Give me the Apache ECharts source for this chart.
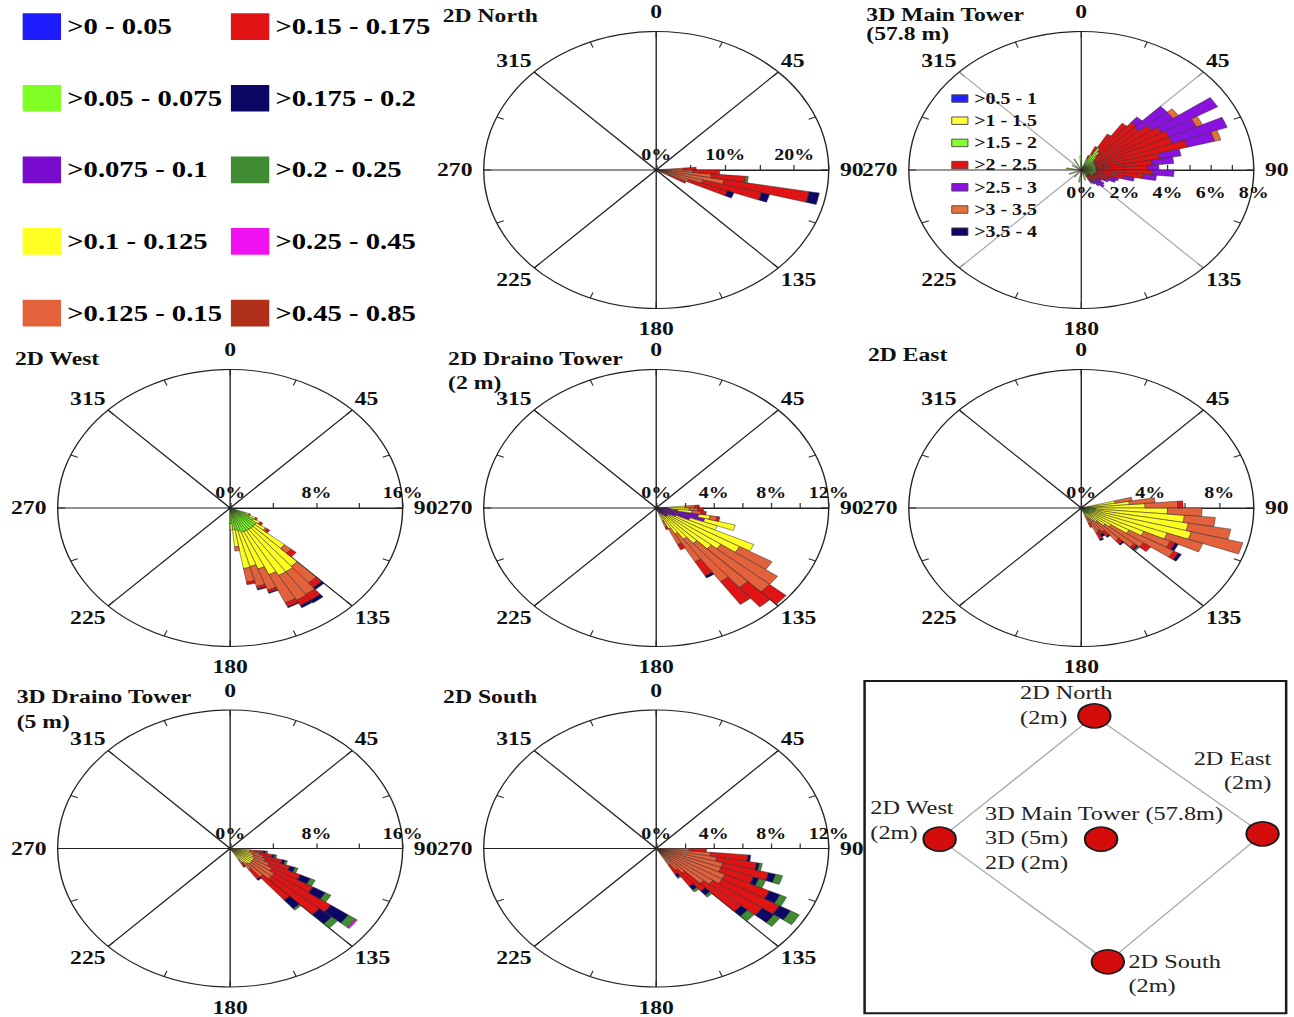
<!DOCTYPE html>
<html>
<head>
<meta charset="utf-8">
<script src="https://cdn.jsdelivr.net/npm/echarts@6/dist/echarts.min.js"></script>
<style>
html,body{margin:0;padding:0;background:#fff;overflow:hidden;}
#wrap{width:1294px;height:1017px;overflow:hidden;position:relative;background:#fff;}
#chart{width:1039px;height:1017px;transform:scaleX(1.24543);transform-origin:0 0;}
</style>
</head>
<body>
<div id="wrap"><div id="chart"></div></div>
<script>
// ---------------- DATA ----------------
// wind-direction bins (start angle of each 5-degree sector, clockwise from north)
const binStarts = Array.from({length: 72}, (_, i) => String(i * 5));
// compass labels shown round each rose
const compassLabels = [0, 45, 90, 135, 180, 225, 270, 315];

const classNames = ['>0 - 0.05','>0.05 - 0.075','>0.075 - 0.1','>0.1 - 0.125','>0.125 - 0.15',
                    '>0.15 - 0.175','>0.175 - 0.2','>0.2 - 0.25','>0.25 - 0.45','>0.45 - 0.85'];
const classColors = ['#1f1bff','#80ff24','#7a0ccf','#ffff22','#e4623b','#e01414','#0c0664','#3f8c32','#f012f0','#b0301a'];
const towerClassNames = ['>0.5 - 1','>1 - 1.5','>1.5 - 2','>2 - 2.5','>2.5 - 3','>3 - 3.5','>3.5 - 4'];
const towerClassColors = ['#2222ff','#ffff3a','#84ff30','#e01414','#8a12e0','#e8703c','#0c0664'];

const panelTitles = ['2D North','3D Main Tower\n(57.8 m)','2D West','2D Draino Tower\n(2 m)','2D East','3D Draino Tower\n(5 m)','2D South'];
const radialMax       = [25, 8, 16, 12, 10, 16, 12];
const radialTickStep  = [5, 1, 4, 2, 2, 4, 2];
const radialLabelStep = [10, 2, 8, 4, 4, 8, 4];

// 2D North (% of time per direction sector, per class)
const northBins   = [85, 90, 95, 100, 105, 110, 115];
const northYellow = [0.3, 0.3, 0.4, 0.5, 0.4, 0.3, 0.3];
const northOrange = [3.7, 5.0, 7.6, 9.5, 6.6, 4.7, 1.8];
const northRed    = [1.8, 3.9, 5.0, 12.5, 8.8, 6.0, 2.7];
const northNavy   = [0, 0, 0, 1.5, 1.2, 1.0, 0];
const northGreen  = [0, 0, 0.4, 0, 0, 0, 0];

// 3D Main Tower (57.8 m)
const towerBins   = [20,25,30,35,40,45,50,55,60,65,70,75,80,85,90,95,100,105,110,115,120,125,130,135,140,145,160,185,215,245,275,300,330,355];
const towerBlue   = [0.1,0.1,0.1,0.1,0.1,0.1,0.1,0.1,0.1,0.1,0.1,0.1,0.1,0.1,0.1,0.1,0.1,0.1,0.1,0.1,0.1,0.1,0.1,0.1,0.1,0.1,0.1,0.1,0.1,0.1,0.1,0.1,0.1,0.1];
const towerYellow = [0.1,0.1,0.2,0.2,0.2,0.2,0.2,0.2,0.2,0.2,0.2,0.2,0.2,0.2,0.2,0.2,0.2,0.2,0.2,0.2,0.1,0.1,0.1,0.1,0.1,0.1,0.2,0.2,0.1,0.2,0.2,0.1,0.2,0.2];
const towerGreen  = [0.5,0.8,1.2,1.0,0.7,0.5,0.4,0.4,0.4,0.4,0.4,0.4,0.4,0.4,0.4,0.4,0.4,0.3,0.3,0.3,0.2,0.2,0.2,0.2,0.2,0.2,0.3,0.4,0.3,0.3,0.4,0.3,0.4,0.5];
const towerRed    = [0.2,0.5,0.9,2.0,2.6,2.7,3.3,3.6,3.8,3.8,4.4,3.0,2.6,2.4,2.6,2.2,1.3,0.9,0.7,0.6,0.5,0.5,0.5,0.4,0.3,0.3,0,0,0,0,0,0,0,0];
const towerPurple = [0,0,0,0,0.4,1.7,1.2,3.0,1.4,2.7,1.3,1.0,1.0,0.5,1.0,0.6,0.5,0.3,0.4,0.2,0.2,0.4,0.5,0.4,0.3,0.2,0,0,0,0,0,0,0,0];
const towerOrange = [0,0,0,0,0,0,0.3,0,0.3,0,0.3,0,0,0,0,0,0,0,0,0,0,0,0,0,0,0,0,0,0,0,0,0,0,0];

// 2D West
const westBins   = [110,115,120,125,130,135,140,145,150,155,160,165,170,175];
const westLime   = [1.5,2.0,2.5,3.0,3.0,3.0,3.0,3.0,3.0,3.0,2.8,2.6,2.5,1.8];
const westYellow = [0.4,0.6,0.7,1.0,3.6,5.8,6.0,6.0,5.5,4.5,4.2,4.5,2.0,0.7];
const westOrange = [0,0,0,0.2,0.8,2.5,3.2,3.3,3.6,2.6,2.4,1.6,0.5,0];
const westRed    = [0.1,0.2,0.3,0.3,0.6,0.7,0.8,0.7,0.5,0.3,0.3,0.3,0,0];
const westNavy   = [0,0,0,0,0,0.3,0.4,0.3,0.1,0.1,0.1,0,0,0];

// 2D Draino Tower (2 m)
const draino2Bins   = [85,90,95,100,105,110,115,120,125,130,135,140,145,150,155];
const draino2Purple = [0.8,1.0,1.5,3.0,3.5,2.5,1.5,1.2,1.0,1.0,1.0,0.8,0.6,0.5,0.4];
const draino2Yellow = [1.2,1.3,1.0,0.8,2.2,2.0,6.0,5.5,4.5,4.0,3.0,2.5,2.0,1.5,0.8];
const draino2Orange = [0.7,0.6,0.6,0.5,0,0,0,2.6,4.8,5.3,5.0,4.5,2.8,1.5,0.6];
const draino2Red    = [0.3,0.4,0.4,0.2,0,0,0,0,0,1.5,2.2,2.4,1.4,0.5,0.2];
const draino2Navy   = [0,0,0,0,0,0,0,0,0,0,0,0,0.2,0,0];

// 2D East
const eastBins   = [75,80,85,90,95,100,105,110,115,120,125,130,135,140,145,150,155];
const eastLime   = [0.5,0.6,0.7,0.8,0.8,0.8,0.8,0.8,0.7,0.7,0.6,0.6,0.5,0.5,0.4,0.4,0.3];
const eastYellow = [1.5,2.2,3.0,4.2,5.2,5.5,5.8,4.5,3.3,2.5,1.5,1.2,0.8,0.6,0.5,0.4,0.3];
const eastOrange = [1.0,1.5,1.9,2.0,1.8,2.5,3.1,2.2,1.7,3.0,2.3,2.2,1.8,1.0,1.0,1.2,0.6];
const eastRed    = [0,0,0.3,0,0,0,0,0,0.3,0.3,0.5,0.2,0.3,0.4,0.3,0.5,0.3];
const eastNavy   = [0,0,0,0,0,0,0,0,0.2,0.2,0,0.1,0.1,0.1,0.2,0.1,0];
const eastGreen  = [0,0,0,0,0,0,0,0,0,0,0,0.1,0,0,0,0,0];

// 3D Draino Tower (5 m)
const draino5Bins    = [95,100,105,110,115,120,125,130,135,140,145];
const draino5Yellow  = [1.8,2.0,2.2,2.3,2.5,2.5,2.5,2.5,2.3,2.0,1.5];
const draino5Orange  = [0.5,0.8,1.0,1.2,1.5,2.0,2.5,2.5,2.0,1.0,0.5];
const draino5Red     = [0.8,1.2,1.8,2.4,3.2,4.4,6.4,5.8,3.5,1.3,0.4];
const draino5Navy    = [0.2,0.2,0.3,0.5,1.0,1.3,2.0,1.5,1.3,0.2,0.1];
const draino5Green   = [0.2,0.2,0.2,0.3,0.5,0.6,0.8,0.7,0.2,0,0];
const draino5Magenta = [0,0,0,0,0,0,0.2,0,0,0,0];

// 2D South
const southBins   = [90,95,100,105,110,115,120,125,130,135,140,145];
const southYellow = [0.3,0.3,0.3,0.3,0.3,0.3,0.3,0.3,0.3,0.3,0.3,0.2];
const southOrange = [2.0,3.5,4.0,4.5,4.5,5.0,5.0,4.5,4.0,2.5,2.0,1.5];
const southRed    = [1.2,2.6,2.8,3.3,2.4,3.4,4.6,4.2,3.4,2.0,1.7,0.9];
const southNavy   = [0,0.2,0.2,0.5,0.4,0.8,0.9,1.0,0.6,0.5,0.4,0.3];
const southGreen  = [0,0,0.2,0.5,0.5,0.5,0.7,0.5,0.6,0.2,0.2,0.1];

// site schematic (relative positions, 0-100 units)
const siteNames = ['2D North\n(2m)','2D East\n(2m)','2D South\n(2m)','2D West\n(2m)','3D Main Tower (57.8m)\n3D (5m)\n2D (2m)'];
const siteX = [54.5, 94.4, 57.7, 17.8, 56.1];
const siteY = [89.5, 54.0, 15.5, 52.4, 52.4];
const siteRing = [0, 1, 2, 3, 0];

// ---------------- BUILD ----------------
const FONT = "'Liberation Serif','Times New Roman',Times,serif";
const colX = [184.8, 526.9, 868.2];
const rowY = [170, 508, 848.5];
const RAD = 138.5;

const roses = [
  {col:1,row:0, tl:355.5, tt:6,     lh:20,  scheme:'main',  bins:northBins,
   parts:{3:northYellow,4:northOrange,5:northRed,6:northNavy,7:northGreen}},
  {col:2,row:0, tl:695.6, tt:5.5,   lh:19,  scheme:'tower', bins:towerBins, grey:true, below:true,
   parts:{0:towerBlue,1:towerYellow,2:towerGreen,3:towerRed,4:towerPurple,5:towerOrange}},
  {col:0,row:1, tl:12,    tt:348.3, lh:20,  scheme:'main',  bins:westBins,
   parts:{1:westLime,3:westYellow,4:westOrange,5:westRed,6:westNavy}},
  {col:1,row:1, tl:359.8, tt:347.4, lh:23.3,scheme:'main',  bins:draino2Bins,
   parts:{2:draino2Purple,3:draino2Yellow,4:draino2Orange,5:draino2Red,6:draino2Navy}},
  {col:2,row:1, tl:696.9, tt:345,   lh:20,  scheme:'main',  bins:eastBins,
   parts:{1:eastLime,3:eastYellow,4:eastOrange,5:eastRed,6:eastNavy,7:eastGreen}},
  {col:0,row:2, tl:13.4,  tt:684.2, lh:25,  scheme:'main',  bins:draino5Bins,
   parts:{3:draino5Yellow,4:draino5Orange,5:draino5Red,6:draino5Navy,7:draino5Green,8:draino5Magenta}},
  {col:1,row:2, tl:355.8, tt:686.7, lh:20,  scheme:'main',  bins:southBins,
   parts:{3:southYellow,4:southOrange,5:southRed,6:southNavy,7:southGreen}}
];

function toSectors(bins, vals) {
  const arr = new Array(binStarts.length).fill(null);
  bins.forEach((b, i) => { if (vals[i] > 0) arr[binStarts.indexOf(String(b))] = vals[i]; });
  return arr;
}

const labelFont = {fontFamily: FONT, fontWeight: 'bold', fontSize: 19, color: '#111'};
const polar = [], angleAxis = [], radiusAxis = [], series = [], title = [];

roses.forEach((r, k) => {
  const center = [colX[r.col], rowY[r.row]];
  const pd = 2 * k, pf = 2 * k + 1;
  polar.push({center: center, radius: RAD});
  polar.push({center: center, radius: RAD});

  // data polar (hidden axes)
  angleAxis.push({polarIndex: pd, type: 'category', data: binStarts, startAngle: 90, clockwise: true,
    boundaryGap: true, axisLine: {show: false}, axisTick: {show: false}, axisLabel: {show: false}, splitLine: {show: false}});
  radiusAxis.push({polarIndex: pd, type: 'value', min: 0, max: radialMax[k],
    axisLine: {show: false}, axisTick: {show: false}, axisLabel: {show: false}, splitLine: {show: false}});

  // frame polar: outline, spokes, compass labels, radial scale along east (angle 0 of this axis = compass 90)
  const spokeColors = r.grey ? ['#333', 'rgba(0,0,0,0)', '#aaa', 'rgba(0,0,0,0)'] : ['#222', 'rgba(0,0,0,0)'];
  angleAxis.push({polarIndex: pf, type: 'value', min: 0, max: 360, interval: 22.5, startAngle: 0, clockwise: true,
    axisLine: {show: true, lineStyle: {color: '#222', width: 1.1}},
    axisTick: {show: true, inside: true, length: 6, lineStyle: {color: '#333', width: 1}},
    splitLine: {show: true, lineStyle: {color: spokeColors, width: 1.1}},
    axisLabel: {show: true, margin: 3,
      formatter: function (v) {
        if (v >= 360) return '';
        const a = (v + 90) % 360;
        if (compassLabels.indexOf(a) < 0) return '';
        const tag = a === 0 ? 'n' : a === 90 ? 'e' : a === 180 ? 's' : a === 270 ? 'w' : 'd';
        return '{' + tag + '|' + a + '}';
      },
      rich: {
        n: Object.assign({padding: [0, 0, 7, 0]}, labelFont),
        s: Object.assign({padding: [8, 0, 0, 0]}, labelFont),
        e: Object.assign({padding: [0, 0, 0, 6]}, labelFont),
        w: Object.assign({padding: [0, 6, 0, 0]}, labelFont),
        d: Object.assign({}, labelFont)
      }
    }});
  const step = radialLabelStep[k];
  radiusAxis.push({polarIndex: pf, type: 'value', min: 0, max: radialMax[k], interval: radialTickStep[k],
    axisLine: {show: true, lineStyle: {color: '#222', width: 1.1}},
    axisTick: {show: true, length: 5, lineStyle: {color: '#333'}},
    splitLine: {show: false},
    axisLabel: {show: true, margin: r.below ? -31 : 7, fontFamily: FONT, fontWeight: 'bold', fontSize: 16, color: '#111',
      formatter: function (v) {
        const q = v / step;
        return Math.abs(q - Math.round(q)) < 1e-6 ? v + '%' : '';
      }}});

  // stacked sectors, one series per class
  const names = r.scheme === 'tower' ? towerClassNames : classNames;
  const colors = r.scheme === 'tower' ? towerClassColors : classColors;
  names.forEach((nm, ci) => {
    const vals = r.parts[ci];
    series.push({
      type: 'bar', coordinateSystem: 'polar', polarIndex: pd, stack: 'rose' + k, name: nm,
      data: vals ? toSectors(r.bins, vals) : new Array(binStarts.length).fill(null),
      barCategoryGap: '0%', silent: true,
      itemStyle: {color: colors[ci], borderColor: '#2a2a2a', borderWidth: 0.45}
    });
  });

  title.push({text: panelTitles[k], left: r.tl, top: r.tt, padding: 0,
    textStyle: {fontFamily: FONT, fontWeight: 'bold', fontSize: 19, color: '#111', lineHeight: r.lh}});
});

// site map
const labelPlacement = [
  {position: [-45.8, -23], align: 'left'},
  {position: [20.8, -75.3], align: 'right'},
  {position: [30.4, -0.2], align: 'left'},
  {position: [-41.8, -31.3], align: 'left'},
  {position: [-79.3, -25.5], align: 'left'}
];
series.push({
  type: 'line', xAxisIndex: 0, yAxisIndex: 0, silent: true, symbol: 'none', z: 3,
  data: siteRing.map(i => [siteX[i], siteY[i]]),
  lineStyle: {color: '#a8a8a8', width: 1.2}
});
series.push({
  type: 'scatter', xAxisIndex: 0, yAxisIndex: 0, silent: true, z: 5,
  symbol: 'circle', symbolSize: [26, 24],
  itemStyle: {color: '#d40c0c', borderColor: '#1a1a1a', borderWidth: 1.6, opacity: 1},
  label: {show: true, formatter: '{b}', fontFamily: FONT, fontSize: 19.5, color: '#222', lineHeight: 24.6, verticalAlign: 'top'},
  data: siteNames.map((nm, i) => ({name: nm, value: [siteX[i], siteY[i]],
    label: {position: labelPlacement[i].position, align: labelPlacement[i].align, verticalAlign: 'top'}}))
});

const legendText = {fontFamily: FONT, fontWeight: 'bold', fontSize: 23, color: '#000', lineHeight: 26};
const option = {
  animation: false,
  backgroundColor: '#fff',
  textStyle: {fontFamily: FONT},
  title: title,
  legend: [
    {data: classNames.slice(0, 5), orient: 'vertical', left: 18.2, top: 13.3, padding: 0,
     itemWidth: 30.8, itemHeight: 26.7, itemGap: 44.9, icon: 'rect', selectedMode: false,
     itemStyle: {borderWidth: 0}, textStyle: legendText},
    {data: classNames.slice(5), orient: 'vertical', left: 185.4, top: 13.3, padding: 0,
     itemWidth: 30.8, itemHeight: 26.7, itemGap: 44.9, icon: 'rect', selectedMode: false,
     itemStyle: {borderWidth: 0}, textStyle: legendText},
    {data: towerClassNames, orient: 'vertical', left: 763.8, top: 90, padding: 0,
     itemWidth: 13, itemHeight: 7.5, itemGap: 5.2, icon: 'rect', selectedMode: false,
     itemStyle: {borderWidth: 0.8, borderColor: '#444'},
     textStyle: {fontFamily: FONT, fontWeight: 'bold', fontSize: 16, color: '#111', lineHeight: 17}}
  ],
  polar: polar,
  angleAxis: angleAxis,
  radiusAxis: radiusAxis,
  grid: [{left: 694.2, top: 681, width: 338.5, height: 332.3, show: true, borderColor: '#1a1a1a', borderWidth: 2,
          backgroundColor: 'rgba(0,0,0,0)'}],
  xAxis: [{gridIndex: 0, type: 'value', min: 0, max: 100, show: false}],
  yAxis: [{gridIndex: 0, type: 'value', min: 0, max: 100, show: false}],
  series: series
};

const chart = echarts.init(document.getElementById('chart'), null, {renderer: 'svg', width: 1039, height: 1017});
chart.setOption(option);
</script>
</body>
</html>
